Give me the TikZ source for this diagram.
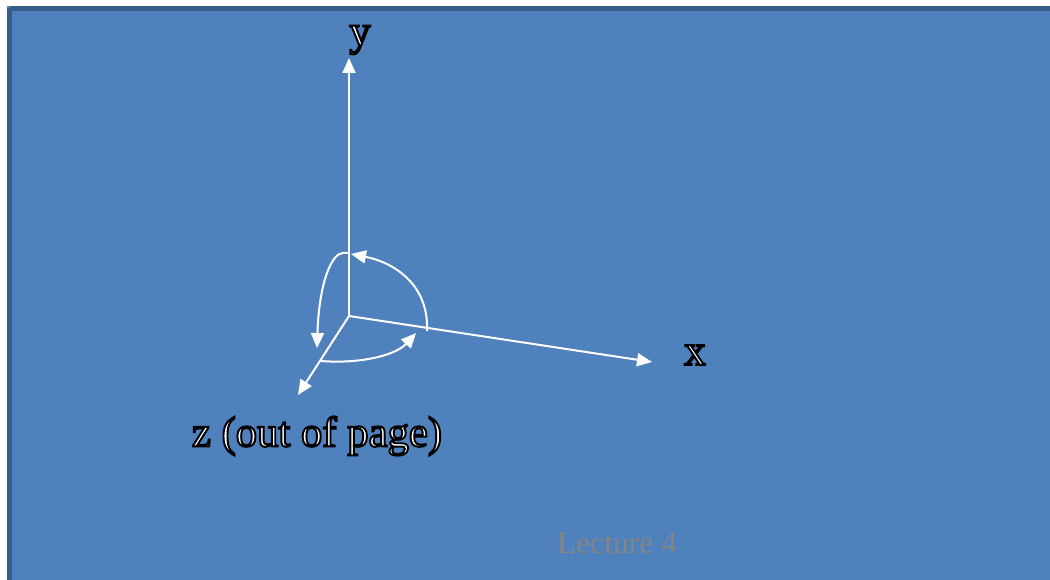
\documentclass[tikz,border=0pt]{standalone}
\usepackage{fontspec}
\setmainfont{Liberation Serif}
\usetikzlibrary{arrows.meta}
\definecolor{slideblue}{HTML}{4F81BD}
\definecolor{slideborder}{HTML}{385D8A}
\definecolor{lecgray}{HTML}{858585}
\newcommand{\embossed}[1]{\special{pdf:literal direct 2 Tr 1.1 w 0 0 0 RG}#1\special{pdf:literal direct 0 Tr}}
\begin{document}
\begin{tikzpicture}[x=0.02cm,y=-0.02cm,
  axis/.style={white,line width=0.04cm,-{Triangle[length=0.3cm,width=0.26cm]}},
  rot/.style={white,line width=0.04cm,-{Triangle[length=0.3cm,width=0.26cm]}},
  bigtxt/.style={font=\fontsize{24.3}{29}\selectfont,inner sep=0pt,text=white}]
\useasboundingbox (0,0) rectangle (1050,580);
\fill[white] (0,0) rectangle (1050,580);
\begin{scope}
\clip (0,0) rectangle (1050,580);
\fill[slideblue] (7,6) rectangle (1060,590);
\draw[slideborder,line width=0.1cm] (9.5,8.5) -- (1060,8.5);
\draw[slideborder,line width=0.1cm] (9.5,8.5) -- (9.5,590);
\end{scope}
% axes
\coordinate (O) at (349,316);
\coordinate (Y) at (349,58);
\coordinate (X) at (652,362);
\coordinate (Z) at (298,395);
\draw[axis] (O) -- (Y);
\draw[axis] (O) -- (X);
\draw[axis] (O) -- (Z);
% rotation arcs
\coordinate (a1s) at (427,331);
\coordinate (a1e) at (351,254);
\draw[rot] (a1s) .. controls (429,283) and (392,262) .. (a1e);
\coordinate (a2s) at (349,253);
\coordinate (a2m) at (343,253);
\coordinate (a2e) at (317,348);
\draw[rot] (a2s) -- (a2m) .. controls (332,253) and (319,282) .. (a2e);
\coordinate (a3s) at (321,361);
\coordinate (a3e) at (416,333);
\draw[rot] (a3s) .. controls (358,364) and (395,356) .. (a3e);
% labels
\node[bigtxt] (yl) at (360,40) {\embossed{y}};
\node[bigtxt] (xl) at (695,355) {\embossed{x}};
\node[bigtxt] (zl) at (317,436) {\embossed{z (out of page)}};
\node[font=\fontsize{18}{22}\selectfont,lecgray,inner sep=0pt,anchor=base] (lec) at (617,553) {Lecture 4};
\end{tikzpicture}
\end{document}
